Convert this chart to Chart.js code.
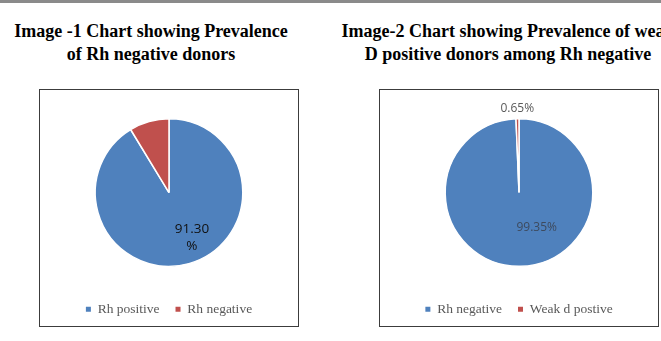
<!DOCTYPE html>
<html>
<head>
<meta charset="utf-8">
<script src="https://cdn.jsdelivr.net/npm/chart.js@4"></script>
<style>
  html, body { margin: 0; padding: 0; background: #fff; }
  body { width: 661px; height: 341px; position: relative; overflow: hidden; }
  .topbar { position: absolute; left: 0; top: 0; width: 661px; height: 3px; background: #8a8a8a; }
  .title { position: absolute; top: 20px; width: 360px; text-align: center; white-space: nowrap;
           font: bold 18px "Liberation Serif", "Times New Roman", serif; line-height: 23px; color: #000; }
  .box { position: absolute; top: 89px; height: 236px; border: 1.5px solid #3c3c3c; background: #fff; }
  .box canvas { position: absolute; left: 0; top: 0; }
</style>
</head>
<body>
<div class="topbar"></div>
<div class="title" style="left:-29px">Image -1 Chart showing Prevalence<br>of Rh negative donors</div>
<div class="title" style="left:328px">Image-2 Chart showing Prevalence of weak<br>D positive donors among Rh negative</div>
<div class="box" style="left:39px; width:258px"><canvas id="c1" width="258" height="236"></canvas></div>
<div class="box" style="left:379px; width:278px"><canvas id="c2" width="278" height="236"></canvas></div>
<script>
// Chart 1
var labels1 = ['Rh positive', 'Rh negative'];
var values1 = [91.30, 8.70];
var text1 = [['91.30', '%'], null];

// Chart 2
var labels2 = ['Rh negative', 'Weak d postive'];
var values2 = [99.35, 0.65];
var text2 = [['99.35%'], ['0.65%']];

var colors = ['#4F81BD', '#C0504D'];

// simple label plugin: draws text near each arc
var sliceLabels = {
  id: 'sliceLabels',
  afterDatasetsDraw: function(chart, args, opts) {
    var ctx = chart.ctx;
    var meta = chart.getDatasetMeta(0);
    meta.data.forEach(function(arc, i) {
      var lines = opts.text[i];
      if (!lines) return;
      var p = arc.getProps(['x', 'y', 'startAngle', 'endAngle', 'outerRadius'], true);
      var mid = (p.startAngle + p.endAngle) / 2;
      var cfg = opts.place[i];
      var r = cfg.outside ? p.outerRadius + cfg.r : p.outerRadius * cfg.r;
      var x = p.x + Math.cos(mid) * r + (cfg.dx || 0);
      var y = p.y + Math.sin(mid) * r + (cfg.dy || 0);
      ctx.save();
      ctx.font = cfg.font;
      ctx.fillStyle = cfg.color;
      ctx.textAlign = 'center';
      ctx.textBaseline = 'middle';
      var lh = cfg.lineHeight || 16;
      var y0 = y - (lines.length - 1) * lh / 2;
      lines.forEach(function(t, k) { ctx.fillText(t, x, y0 + k * lh); });
      ctx.restore();
    });
  }
};

function makePie(id, labels, values, text, place) {
  return new Chart(document.getElementById(id), {
    type: 'pie',
    data: {
      labels: labels,
      datasets: [{
        data: values,
        backgroundColor: colors,
        borderColor: '#ffffff',
        borderWidth: 1.5
      }]
    },
    options: {
      responsive: false,
      animation: false,
      layout: { padding: { top: 28, bottom: 0 } },
      plugins: {
        tooltip: { enabled: false },
        legend: {
          position: 'bottom',
          title: { display: true, text: '', font: { size: 12 }, padding: { top: 5, bottom: 0 } },
          labels: {
            boxWidth: 5,
            boxHeight: 5,
            padding: 16,
            color: '#595959',
            font: { family: '"Liberation Serif", "Times New Roman", serif', size: 13.5 },
            generateLabels: function(chart) {
              var items = Chart.controllers.pie.overrides.plugins.legend.labels.generateLabels(chart);
              items.forEach(function(it) { it.lineWidth = 0; it.strokeStyle = it.fillStyle; });
              return items;
            }
          }
        },
        sliceLabels: { text: text, place: place }
      }
    },
    plugins: [sliceLabels]
  });
}

makePie('c1', labels1, values1, text1, [
  { r: 0.6, dx: 11, dy: 2, font: '13.5px "Open Sans", sans-serif', color: '#111111', lineHeight: 17 },
  null
]);
makePie('c2', labels2, values2, text2, [
  { r: 0.5, dx: 17, dy: -2, font: '12px "Open Sans", sans-serif', color: '#3d4a5e' },
  { outside: true, r: 10, dx: 0, dy: 0, font: '12px "Open Sans", sans-serif', color: '#595959' }
]);
</script>
</body>
</html>
